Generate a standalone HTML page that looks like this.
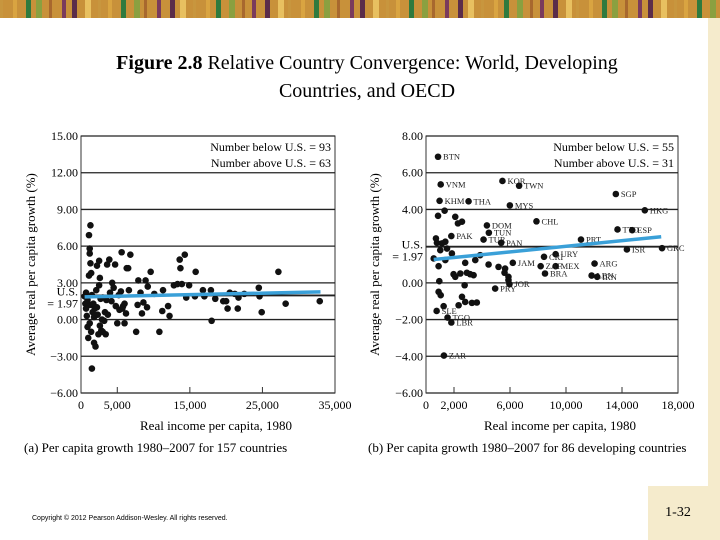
<!DOCTYPE html>
<html><head><meta charset="utf-8"><style>
html,body{margin:0;padding:0;background:#fff}
#root{position:relative;width:720px;height:540px;overflow:hidden;font-family:"Liberation Serif",serif}
</style></head><body>
<div id="root">
<svg id="s" width="720" height="540" xmlns="http://www.w3.org/2000/svg">
<g id="border"></g>
<rect x="708" y="18" width="12" height="522" fill="#f5ebcc"/>
<rect x="648" y="486" width="60" height="54" fill="#f5ebcc"/>
<text x="678" y="516" font-size="14" text-anchor="middle" fill="#000">1-32</text>
<text x="367" y="69" font-size="20" text-anchor="middle"><tspan font-weight="bold">Figure 2.8</tspan>  Relative Country Convergence: World, Developing</text>
<text x="367" y="97" font-size="20" text-anchor="middle">Countries, and OECD</text>
<text x="32" y="520" font-size="7" font-family="Liberation Sans, sans-serif">Copyright © 2012 Pearson Addison-Wesley. All rights reserved.</text>
<g id="chartA"></g>
<g id="chartB"></g>
</svg>
</div>
<script>
// ---- Chart A data (thousands of $, growth %) ----
const aX = [0.6,0.7,0.8,0.9,1.0,1.1,1.3,1.2,1.2,1.3,1.1,1.4,1.5,1.3,1.6,1.2,1.4,1.5,1.8,2.0,1.9,2.1,2.2,2.5,2.6,2.5,2.7,2.3,2.8,2.4,3.0,3.2,3.3,3.5,3.6,3.9,4.0,4.3,4.5,4.7,4.8,5.0,5.3,5.5,5.6,5.8,6.0,6.2,6.3,6.5,6.6,6.8,7.6,7.8,7.9,8.2,8.4,8.6,8.9,9.2,9.1,9.6,10.1,10.8,11.3,11.2,12.0,12.2,12.8,13.3,13.6,13.7,14.3,13.9,14.5,14.9,15.8,15.7,16.8,17.0,17.9,18.0,18.5,19.6,20.0,20.2,20.5,21.2,21.6,21.7,22.5,24.5,24.6,24.9,27.2,28.2,32.9,0.5,0.7,0.9,1.7,2.2,3.0,3.7,2.9,1.8,2.6,3.4,5.2,5.7,6.0,4.2];
const aY = [1.3,2.2,0.3,-0.6,-1.5,6.9,7.7,5.8,5.4,4.6,3.6,3.8,2.0,1.2,0.6,-0.3,-1.0,-4.0,-1.9,-2.2,0.9,2.4,4.4,4.8,3.4,2.8,1.7,0.4,-0.9,-1.2,-1.0,-0.1,0.6,1.6,4.5,4.9,2.2,3.0,2.6,4.5,1.1,-0.3,0.8,2.3,5.5,1.1,-0.3,0.5,4.2,4.2,2.4,5.3,-1.0,1.2,3.2,2.2,0.5,1.4,3.2,2.7,1.0,3.9,2.1,-1.0,2.4,0.7,1.1,0.3,2.8,2.9,4.9,4.2,5.3,2.9,1.8,2.8,3.9,1.9,2.4,1.9,2.4,-0.1,1.7,1.5,1.5,0.9,2.2,2.1,0.9,1.8,2.1,2.6,1.9,0.6,3.9,1.3,1.5,1.9,0.9,1.6,1.3,1.0,1.8,0.4,0.0,0.2,-0.5,-1.2,2.0,0.9,1.3,1.5];
const aTrendX = [0.5,33];
const aTrendY = [1.85,2.26];
const aYTicks = [15,12,9,6,3,0,-3,-6];
const aXTicks = [0,5,15,25,35];
const aXTickLabels = ["0","5,000","15,000","25,000","35,000"];
// ---- Chart B data ----
const bX = [0.86,1.05,0.97,3.04,5.46,6.65,5.99,13.56,15.63,7.89,13.68,14.73,11.07,14.35,16.86,9.26,8.43,12.04,9.26,8.19,8.50,11.83,12.23,4.35,4.49,4.11,5.37,1.81,6.2,4.94,5.96,1.28,1.81,1.54,0.76,0.86,1.33,2.09,2.28,2.57,0.71,0.78,1.14,1.38,1.02,1.50,1.85,2.80,3.52,3.87,4.47,5.18,5.65,5.61,5.89,5.89,0.95,0.90,1.05,1.26,2.33,2.80,3.28,3.63,2.57,2.76,1.97,2.09,2.45,2.92,3.40,3.16,0.90,0.55,1.38];
const bY = [6.87,5.36,4.47,4.44,5.55,5.29,4.22,4.84,3.95,3.35,2.91,2.87,2.36,1.82,1.89,1.56,1.42,1.05,0.91,0.91,0.51,0.40,0.33,3.13,2.73,2.36,2.18,2.55,1.09,-0.31,-0.07,-3.96,-2.16,-1.89,-1.53,3.65,3.93,3.6,3.24,3.33,2.42,2.18,2.15,2.24,1.78,1.87,1.6,1.09,1.24,1.51,1.0,0.87,0.78,0.55,0.33,0.15,0.09,-0.49,-0.67,-1.27,-1.22,-1.04,-1.09,-1.07,-0.76,-0.13,0.47,0.33,0.51,0.55,0.42,0.47,0.91,1.33,1.24];
const bLabels = ["BTN","VNM","KHM","THA","KOR","TWN","MYS","SGP","HKG","CHL","TTO","ESP","PRT","ISR","GRC","URY","CRI","ARG","MEX","ZAF","BRA","LBN","IRN","DOM","TUN","TUR","PAN","PAK","JAM","PRY","JOR","ZAR","LBR","TGO","SLE"];
const bTrendX = [0.55,16.8];
const bTrendY = [1.27,2.51];
const bYTicks = [8,6,4,0,-2,-4,-6];
const bXTicks = [0,2,6,10,14,18];
const bXTickLabels = ["0","2,000","6,000","10,000","14,000","18,000"];

const NS="http://www.w3.org/2000/svg";
function mk(p,t,a,txt){const e=document.createElementNS(NS,t);for(const k in a)e.setAttribute(k,a[k]);if(txt!==undefined)e.textContent=txt;p.appendChild(e);return e;}

// border
const border=document.getElementById('border');
const cols=["#c8963e","#7a3b5c","#2f7a3e","#e8c060","#a8682e","#d9a441","#5b2d4a","#8aa040"];
mk(border,'rect',{x:0,y:0,width:720,height:18,fill:"#c8913a"});
for(let i=0;i<60;i++){
  const r=mk(border,'rect',{x:i*12+(i%3),y:0,width:(i%4)+3,height:18,fill:cols[(i*5)%cols.length]});
  
  
}

function chart(g,o){
  const X=v=>o.x0+(v-o.xmin)/(o.xmax-o.xmin)*(o.x1-o.x0);
  const Y=v=>o.y1-(v-o.ymin)/(o.ymax-o.ymin)*(o.y1-o.y0);
  let e;
  e=mk(g,'rect',{x:o.x0,y:o.y0,width:o.x1-o.x0,height:o.y1-o.y0,fill:"#fff",stroke:"#333","stroke-width":1});
  
  
  o.yTicks.forEach(t=>{
    e=mk(g,'line',{x1:o.x0,x2:o.x1,y1:Y(t),y2:Y(t),stroke:"#222","stroke-width":1.3});
    
    
    e=mk(g,'text',{x:o.x0-3,y:Y(t)+4,"font-size":12,"text-anchor":"end"},(t<0?"\u2212":"")+Math.abs(t).toFixed(2));
    
    
  });
  e=mk(g,'line',{x1:o.x0,x2:o.x1,y1:Y(1.97),y2:Y(1.97),stroke:"#222","stroke-width":1.8});
  
  
  e=mk(g,'text',{x:o.x0-3,y:Y(1.97)+o.usDy,"font-size":12,"text-anchor":"end"},"U.S.");
  
  
  e=mk(g,'text',{x:o.x0-3,y:Y(1.97)+o.usDy+12,"font-size":12,"text-anchor":"end"},"= 1.97");
  
  
  o.xTicks.forEach((t,i)=>{
    e=mk(g,'line',{x1:X(t),x2:X(t),y1:o.y1,y2:o.y1-6,stroke:"#333"});
    
    
    e=mk(g,'text',{x:X(t),y:o.y1+16,"font-size":12,"text-anchor":"middle"},o.xLabels[i]);
    
    
  });
  o.xs.forEach((v,i)=>{
    e=mk(g,'circle',{cx:X(v),cy:Y(o.ys[i]),r:3.3,fill:"#111"});
    
    
    if(o.labels&&o.labels[i]){
      e=mk(g,'text',{x:X(v)+5,y:Y(o.ys[i])+3,"font-size":8.5,fill:"#222"},o.labels[i]);
      
      
    }
  });
  e=mk(g,'line',{x1:X(o.tx[0]),y1:Y(o.ty[0]),x2:X(o.tx[1]),y2:Y(o.ty[1]),stroke:"#3aa0d8","stroke-width":3.5});
  
  
  e=mk(g,'text',{x:o.x1-4,y:o.y0+15,"font-size":12,"text-anchor":"end"},o.n1);
  
  
  e=mk(g,'text',{x:o.x1-4,y:o.y0+31,"font-size":12,"text-anchor":"end"},o.n2);
  
  
  const cy=(o.y0+o.y1)/2;
  e=mk(g,'text',{x:o.yTitleX,y:cy,"font-size":13,"text-anchor":"middle",transform:`rotate(-90 ${o.yTitleX} ${cy})`},"Average real per capita growth (%)");
  
  
  e=mk(g,'text',{x:(o.x0+o.x1)/2+8,y:430,"font-size":13,"text-anchor":"middle"},"Real income per capita, 1980");
  
  
  e=mk(g,'text',{x:o.capX,y:452,"font-size":13},o.caption);
  
  
}
chart(document.getElementById('chartA'),{x0:81,x1:335,y0:136,y1:393,xmin:0,xmax:35,ymin:-6,ymax:15,yTicks:aYTicks,xTicks:aXTicks,xLabels:aXTickLabels,xs:aX,ys:aY,tx:aTrendX,ty:aTrendY,usDy:0,n1:"Number below U.S. = 93",n2:"Number above U.S. = 63",yTitleX:35,capX:24,caption:"(a) Per capita growth 1980\u20132007 for 157 countries"});
chart(document.getElementById('chartB'),{x0:426,x1:678,y0:136,y1:393,xmin:0,xmax:18,ymin:-6,ymax:8,yTicks:bYTicks,xTicks:bXTicks,xLabels:bXTickLabels,xs:bX,ys:bY,labels:bLabels,tx:bTrendX,ty:bTrendY,usDy:2,n1:"Number below U.S. = 55",n2:"Number above U.S. = 31",yTitleX:379,capX:368,caption:"(b) Per capita growth 1980\u20132007 for 86 developing countries"});
</script>
</body></html>
